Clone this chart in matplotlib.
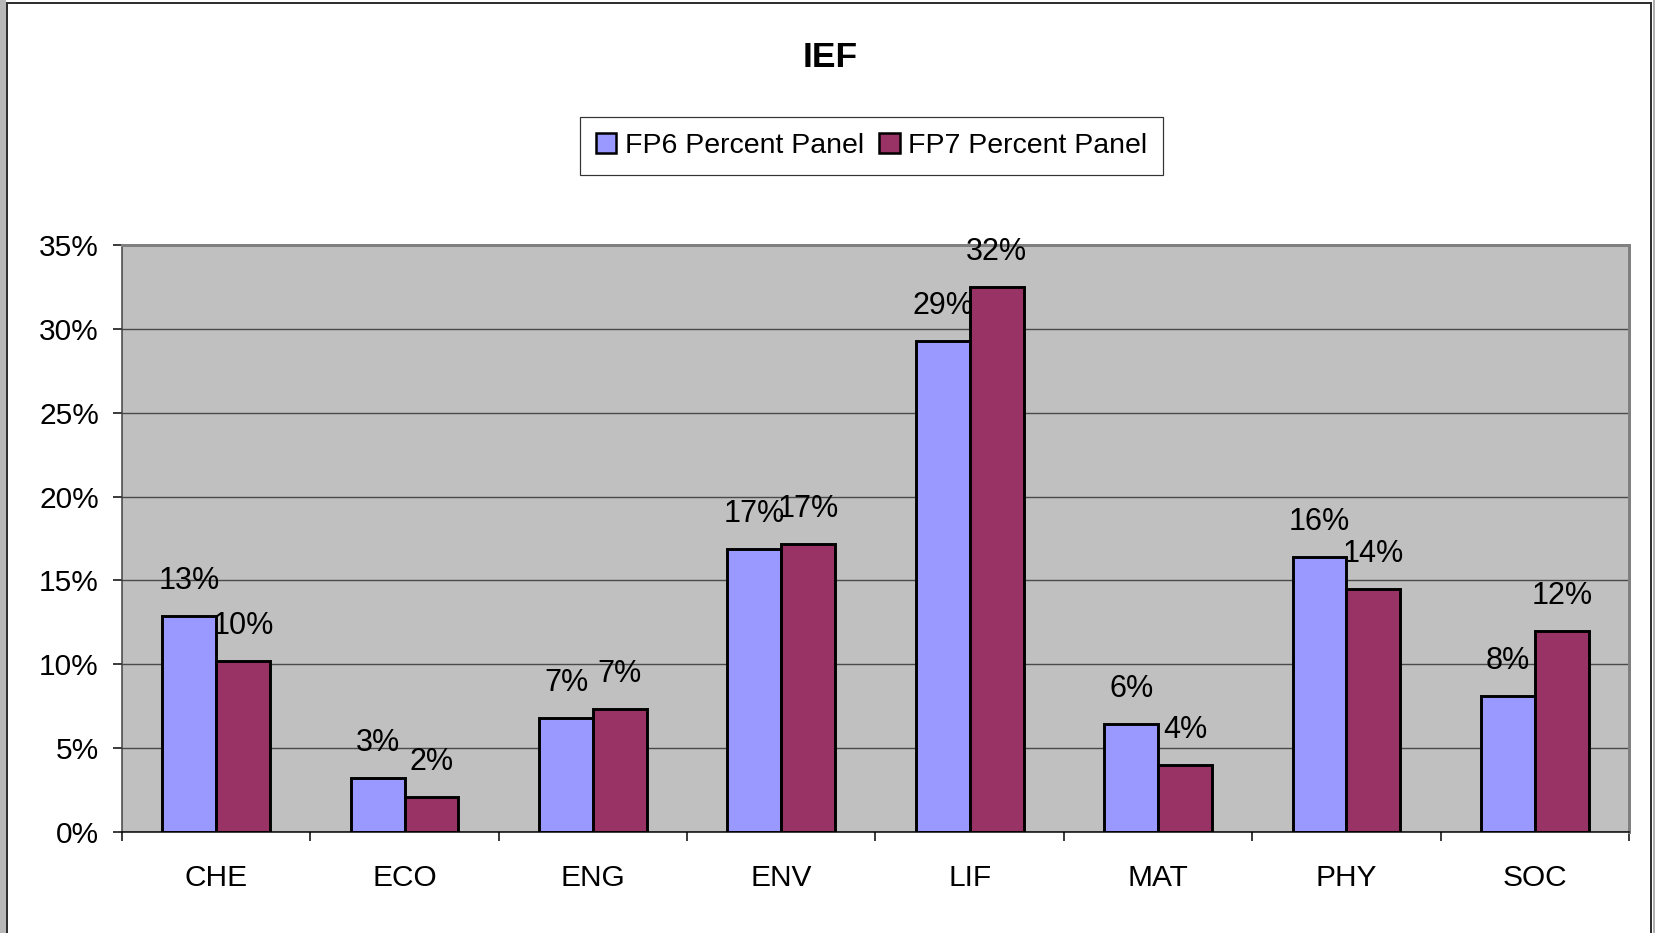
import matplotlib
matplotlib.use("Agg")
import matplotlib.pyplot as plt
from matplotlib.patches import Patch, Rectangle
from matplotlib.lines import Line2D
import numpy as np

categories = ["CHE", "ECO", "ENG", "ENV", "LIF", "MAT", "PHY", "SOC"]
fp6 = [12.9, 3.2, 6.8, 16.9, 29.3, 6.4, 16.4, 8.1]
fp7 = [10.2, 2.1, 7.3, 17.2, 32.5, 4.0, 14.5, 12.0]
series_names = ["FP6 Percent Panel", "FP7 Percent Panel"]
yticks = [0, 5, 10, 15, 20, 25, 30, 35]
title = "IEF"

plt.rcParams['font.family'] = ['Liberation Sans', 'DejaVu Sans']

W, H = 1656, 933
DPI = 100
fig = plt.figure(figsize=(W / DPI, H / DPI), dpi=DPI)
fig.patch.set_facecolor('white')

def px2pt(p):
    return p * 72.0 / DPI

# outer frame decoration
fig.add_artist(Rectangle((0, 0), 6 / W, 1, transform=fig.transFigure,
                         facecolor='#b8b8b8', edgecolor='none', zorder=0))
fig.add_artist(Rectangle((1653 / W, 0), 3 / W, 1, transform=fig.transFigure,
                         facecolor='#b0b0b0', edgecolor='none', zorder=0))
fig.add_artist(Line2D([7 / W, 7 / W], [0, 1 - 3 / H], transform=fig.transFigure,
                      color='#303030', lw=px2pt(2)))
fig.add_artist(Line2D([1651 / W, 1651 / W], [0, 1 - 3 / H], transform=fig.transFigure,
                      color='#303030', lw=px2pt(2)))
fig.add_artist(Line2D([7 / W, 1651 / W], [1 - 3 / H, 1 - 3 / H], transform=fig.transFigure,
                      color='#303030', lw=px2pt(2)))

left, right = 122 / W, 1629 / W
bottom, top = 1 - 831.7 / H, 1 - 245.3 / H
ax = fig.add_axes([left, bottom, right - left, top - bottom])
ax.set_facecolor('#C0C0C0')

n = len(categories)
x = np.arange(n)
w = 1 / 3.5
c6, c7 = '#9999FF', '#993366'
ax.bar(x - w / 2, fp6, w, color=c6, edgecolor='black', linewidth=2.1, zorder=3)
ax.bar(x + w / 2, fp7, w, color=c7, edgecolor='black', linewidth=2.1, zorder=3)

fs = 22
for xs, vals in ((x - w / 2, fp6), (x + w / 2, fp7)):
    for xi, v in zip(xs, vals):
        ax.annotate(f"{round(v):.0f}%", (xi, v), xytext=(0, px2pt(27)),
                    textcoords='offset points', ha='center', va='baseline',
                    fontsize=fs, color='black', zorder=5, annotation_clip=False)

ax.set_xlim(-0.5, n - 0.5)
ax.set_ylim(0, 35)
ax.set_yticks(yticks)
ax.set_yticklabels([f"{t}%" for t in yticks], fontsize=21.5)
ax.yaxis.grid(True, color='#4a4a4a', linewidth=px2pt(1.4), zorder=1)
ax.set_axisbelow(True)

ax.set_xticks(x)
ax.set_xticklabels(categories, fontsize=21.5)
ax.set_xticks(np.arange(-0.5, n, 1.0), minor=True)
ax.tick_params(axis='x', which='major', length=0, pad=px2pt(32))
ax.tick_params(axis='x', which='minor', length=px2pt(9), width=px2pt(1.5),
               direction='out', color='black')
ax.tick_params(axis='y', length=px2pt(9), width=px2pt(1.5), direction='out',
               pad=px2pt(14), color='black')

for s in ('top', 'right'):
    ax.spines[s].set_color('#808080')
    ax.spines[s].set_linewidth(px2pt(3))
ax.spines['left'].set_color('#404040')
ax.spines['left'].set_linewidth(px2pt(1.5))
ax.spines['bottom'].set_color('black')
ax.spines['bottom'].set_linewidth(px2pt(1.5))

fig.text(830 / W, 1 - 67 / H, title, ha='center', va='baseline',
         fontsize=25.5, fontweight='bold')

handles = [Patch(facecolor=c6, edgecolor='black', linewidth=1.8),
           Patch(facecolor=c7, edgecolor='black', linewidth=1.8)]
leg = fig.legend(handles, series_names, loc='center',
                 bbox_to_anchor=(871.6 / W, 1 - 146 / H), ncol=2,
                 fontsize=20.5, frameon=True, fancybox=False,
                 handlelength=0.72, handleheight=0.72, handletextpad=0.3,
                 columnspacing=0.55, borderpad=0.55, borderaxespad=0)
leg.get_frame().set_edgecolor('black')
leg.get_frame().set_linewidth(px2pt(1.2))

fig.savefig("out.png", dpi=DPI, facecolor='white')
